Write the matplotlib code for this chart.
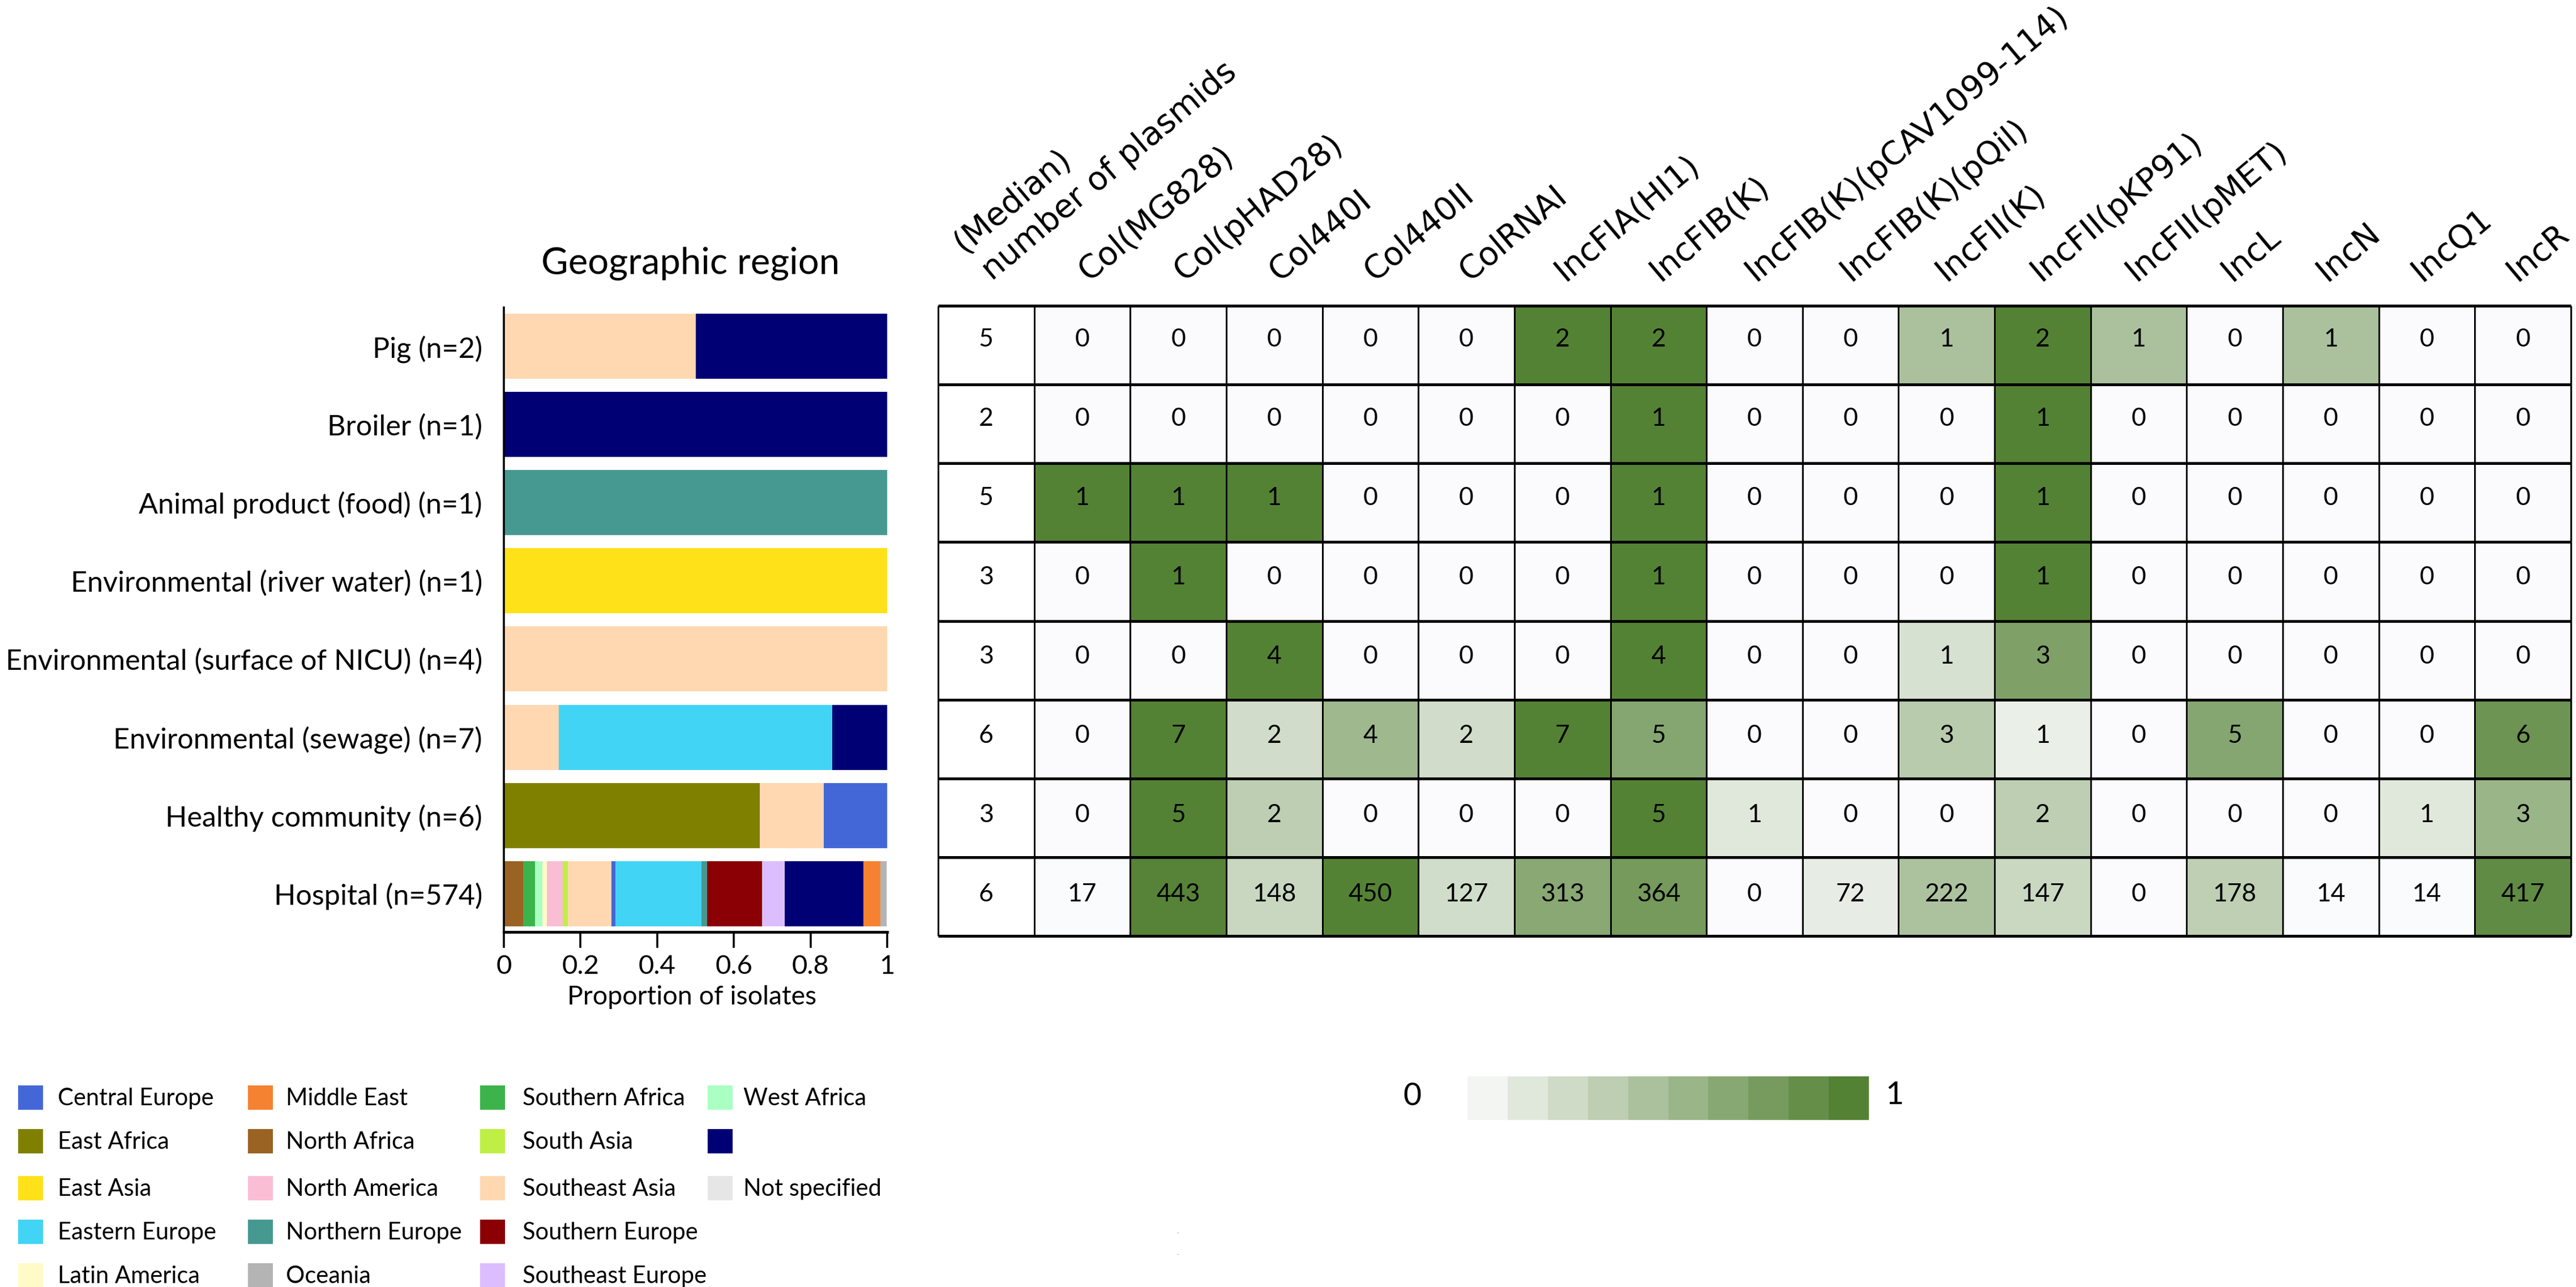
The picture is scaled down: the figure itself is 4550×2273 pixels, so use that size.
import numpy as np
import matplotlib
matplotlib.use("Agg")
import matplotlib.pyplot as plt
from matplotlib.colors import LinearSegmentedColormap

W, H = 4550, 2273
FONT = "Lato"

# ---------- data ----------
sources = ["Pig (n=2)", "Broiler (n=1)", "Animal product (food) (n=1)",
           "Environmental (river water) (n=1)", "Environmental (surface of NICU) (n=4)",
           "Environmental (sewage) (n=7)", "Healthy community (n=6)", "Hospital (n=574)"]

regions = ["Central Europe", "East Africa", "East Asia", "Eastern Europe", "Latin America",
           "Middle East", "North Africa", "North America", "Northern Europe", "Oceania",
           "Southern Africa", "South Asia", "Southeast Asia", "Southern Europe", "Southeast Europe",
           "West Africa", "", "Not specified"]
region_colors = ["#4467D8", "#808000", "#FFE119", "#42D4F4", "#FFFAC8",
                 "#F58231", "#9A6324", "#FABED4", "#469990", "#B4B4B4",
                 "#3CB44B", "#BFEF45", "#FFD8B1", "#8B0005", "#DCBEFF",
                 "#AAFFC3", "#000075", "#E6E6E6"]

pig_stack = [("Southeast Asia", 0.5), ("", 0.5)]
broiler_stack = [("", 1.0)]
animal_stack = [("Northern Europe", 1.0)]
river_stack = [("East Asia", 1.0)]
nicu_stack = [("Southeast Asia", 1.0)]
sewage_stack = [("Southeast Asia", 0.143), ("Eastern Europe", 0.714), ("", 0.143)]
healthy_stack = [("East Africa", 0.667), ("Southeast Asia", 0.167), ("Central Europe", 0.166)]
hospital_stack = [("North Africa", 0.050), ("Southern Africa", 0.031), ("West Africa", 0.020),
                  ("Latin America", 0.011), ("North America", 0.041), ("South Asia", 0.014),
                  ("Southeast Asia", 0.113), ("Central Europe", 0.011), ("Eastern Europe", 0.225),
                  ("Northern Europe", 0.014), ("Southern Europe", 0.144), ("Southeast Europe", 0.058),
                  ("", 0.206), ("Middle East", 0.044), ("Oceania", 0.016)]
stacks = [pig_stack, broiler_stack, animal_stack, river_stack, nicu_stack,
          sewage_stack, healthy_stack, hospital_stack]

replicons = ["Col(MG828)", "Col(pHAD28)", "Col440I", "Col440II", "ColRNAI", "IncFIA(HI1)", "IncFIB(K)",
             "IncFIB(K)(pCAV1099-114)", "IncFIB(K)(pQil)", "IncFII(K)", "IncFII(pKP91)", "IncFII(pMET)",
             "IncL", "IncN", "IncQ1", "IncR"]
median_plasmids = [5, 2, 5, 3, 3, 6, 3, 6]
pig_counts = [0, 0, 0, 0, 0, 2, 2, 0, 0, 1, 2, 1, 0, 1, 0, 0]
broiler_counts = [0, 0, 0, 0, 0, 0, 1, 0, 0, 0, 1, 0, 0, 0, 0, 0]
animal_counts = [1, 1, 1, 0, 0, 0, 1, 0, 0, 0, 1, 0, 0, 0, 0, 0]
river_counts = [0, 1, 0, 0, 0, 0, 1, 0, 0, 0, 1, 0, 0, 0, 0, 0]
nicu_counts = [0, 0, 4, 0, 0, 0, 4, 0, 0, 1, 3, 0, 0, 0, 0, 0]
sewage_counts = [0, 7, 2, 4, 2, 7, 5, 0, 0, 3, 1, 0, 5, 0, 0, 6]
healthy_counts = [0, 5, 2, 0, 0, 0, 5, 1, 0, 0, 2, 0, 0, 0, 1, 3]
hospital_counts = [17, 443, 148, 450, 127, 313, 364, 0, 72, 222, 147, 0, 178, 14, 14, 417]
counts = [pig_counts, broiler_counts, animal_counts, river_counts, nicu_counts,
          sewage_counts, healthy_counts, hospital_counts]
scale_levels = [0.1, 0.2, 0.3, 0.4, 0.5, 0.6, 0.7, 0.8, 0.9, 1.0]

# ---------- helpers ----------
plt.rcParams["font.family"] = [FONT, "DejaVu Sans"]
px = 0.72  # points per pixel at dpi 100
fig = plt.figure(figsize=(W / 100, H / 100), dpi=100, facecolor="white")


def axes_px(x0, y0, x1, y1):
    return fig.add_axes([x0 / W, 1 - y1 / H, (x1 - x0) / W, (y1 - y0) / H])


def fig_text(x, y, s, **kw):
    return fig.text(x / W, 1 - y / H, s, **kw)


# ---------- stacked bars ----------
AX_TOP, AX_BOT = 543, 1646
ROW0, PITCH, BAR_H = 611.5, 138.1, 115
ax = axes_px(890, AX_TOP, 1567, AX_BOT)
ax.patch.set_alpha(0)
for i, stack in enumerate(stacks):
    left = 0.0
    for name, frac in stack:
        ax.barh(i, frac, left=left, height=BAR_H / PITCH, linewidth=0,
                color=region_colors[regions.index(name)])
        left += frac
ax.set_xlim(0, 1)
ax.set_ylim((AX_BOT - ROW0) / PITCH, (AX_TOP - ROW0) / PITCH)
ax.set_yticks(range(len(sources)))
ax.set_yticklabels(sources, fontsize=36.2)
ax.tick_params(axis="y", length=0, pad=38 * px)
ax.set_xticks([0, 0.2, 0.4, 0.6, 0.8, 1])
ax.set_xticklabels(["0", "0.2", "0.4", "0.6", "0.8", "1"], fontsize=34)
ax.tick_params(axis="x", length=28 * px, width=3.5 * px, pad=12 * px)
ax.set_xlabel("Proportion of isolates", fontsize=33.5, labelpad=12 * px, x=0.49)
for side in ("top", "right"):
    ax.spines[side].set_visible(False)
ax.spines["left"].set_linewidth(3.5 * px)
ax.spines["bottom"].set_linewidth(5 * px)
fig_text(1220, 465, "Geographic region", fontsize=47, ha="center", va="center")

# ---------- heat table ----------
T_L, T_R, T_T, T_B = 1657, 4541, 540, 1653
hm = axes_px(T_L, T_T, T_R, T_B)
cmap = LinearSegmentedColormap.from_list(
    "tint", [(0, "#FBFBFE"), (0.05, "#FAFBFB"), (1, "#548235")])
cmap.set_bad("white")
count_arr = np.array(counts, dtype=float)
fractions = count_arr / count_arr.max(axis=1, keepdims=True)
grid = np.column_stack([np.full(len(sources), np.nan), fractions])
nrows, ncols = grid.shape
hm.pcolormesh(np.arange(ncols + 1), np.arange(nrows + 1), np.ma.masked_invalid(grid),
              cmap=cmap, vmin=0, vmax=1, linewidth=0)
hm.set_xlim(0, ncols)
hm.set_ylim(nrows, 0)
hm.set_xticks([])
hm.set_yticks([])
hm.vlines(np.arange(ncols + 1), 0, nrows, color="black", linewidth=3 * px, clip_on=False)
hm.hlines(np.arange(nrows + 1), 0, ncols, color="black", linewidth=5 * px, clip_on=False)
for s in hm.spines.values():
    s.set_visible(False)
for i in range(nrows):
    ty = (600 + 140 * i - T_T) / (T_B - T_T) * nrows
    hm.text(0.5, ty, str(median_plasmids[i]), ha="center", va="center", fontsize=32)
    for j, v in enumerate(counts[i]):
        hm.text(j + 1.5, ty, str(v), ha="center", va="center", fontsize=32)

# rotated column headers
HEAD_ANGLE = 40
HEAD_SIZE = 41
cw = (T_R - T_L) / ncols
fig_text(1702, 448, "(Median)", rotation=HEAD_ANGLE, rotation_mode="anchor", ha="left", va="baseline",
         fontsize=HEAD_SIZE, family="DejaVu Sans")
fig_text(1752, 497, "number of plasmids", rotation=HEAD_ANGLE, rotation_mode="anchor", ha="left", va="baseline",
         fontsize=HEAD_SIZE, family="DejaVu Sans")
for k, name in enumerate(replicons):
    x = T_L + (k + 1.5) * cw + 12 - 1.5 * k
    fig_text(x, 498, name, rotation=HEAD_ANGLE, rotation_mode="anchor", ha="left", va="baseline",
             fontsize=HEAD_SIZE, family="DejaVu Sans")

# ---------- colour scale ----------
cb = axes_px(2592, 1901, 3301, 1978)
cb.pcolormesh(np.arange(len(scale_levels) + 1), [0, 1], np.array([scale_levels]),
              cmap=cmap, vmin=0, vmax=1, linewidth=0)
cb.axis("off")
fig_text(2494, 1937, "0", fontsize=40, ha="center", va="center")
fig_text(3347, 1935, "1", fontsize=40, ha="center", va="center")

# two stray specks in the reference
fig_text(2081, 2176, ".", fontsize=6, ha="center", va="center")
fig_text(2081, 2214, ".", fontsize=6, ha="center", va="center")

# ---------- legend ----------
col_x = [32, 438, 848, 1250]
text_x = [102, 505, 923, 1313]
row_y = [1917, 1994, 2077, 2154, 2231]
for n, (name, colour) in enumerate(zip(regions, region_colors)):
    c, r = n // 5, n % 5
    sw = axes_px(col_x[c], row_y[r], col_x[c] + 44, row_y[r] + 43)
    sw.set_facecolor(colour)
    sw.set_xticks([])
    sw.set_yticks([])
    for s in sw.spines.values():
        s.set_visible(False)
    if name:
        fig_text(text_x[c], row_y[r] + 23, name, fontsize=30, ha="left", va="center")

fig.savefig("out.png", dpi=100, facecolor="white")
